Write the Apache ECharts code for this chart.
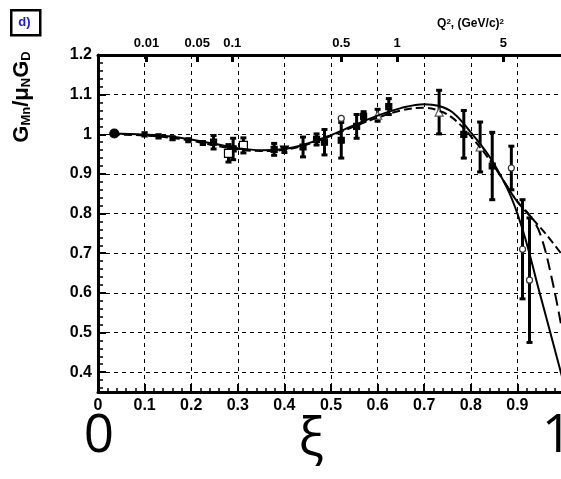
<!DOCTYPE html>
<html>
<head>
<meta charset="utf-8">
<script src="https://cdn.jsdelivr.net/npm/echarts@6/dist/echarts.min.js"></script>
<style>
  html, body { margin: 0; padding: 0; background: #fff; }
  #chart { width: 561px; height: 479px; }
</style>
</head>
<body>
<div id="chart"></div>
<script>
// ---- axis ticks ----
const yMajorTicks = [0.4, 0.5, 0.6, 0.7, 0.8, 0.9, 1, 1.1, 1.2];
const q2Positions = [0.104, 0.213, 0.288, 0.522, 0.642, 0.870];   // xi position of each Q^2 value
const q2Labels = ['0.01', '0.05', '0.1', '0.5', '1', '5'];

// ---- model curves [xi, G_Mn / mu_n G_D] ----
const fitSolid = [
  [0.03, 1.002], [0.1, 0.999], [0.15, 0.995], [0.2, 0.987], [0.25, 0.976], [0.3, 0.965],
  [0.35, 0.96], [0.4, 0.963], [0.45, 0.977], [0.5, 0.998], [0.55, 1.023], [0.6, 1.047],
  [0.65, 1.066], [0.7, 1.076], [0.73, 1.072], [0.76, 1.056], [0.8, 1.005], [0.85, 0.925],
  [0.9, 0.80], [0.95, 0.59], [1.0, 0.37]
];
const fitDashed = [
  [0.03, 1.0], [0.1, 0.997], [0.15, 0.992], [0.2, 0.984], [0.25, 0.972], [0.3, 0.962],
  [0.35, 0.958], [0.4, 0.961], [0.45, 0.975], [0.5, 0.996], [0.55, 1.02], [0.6, 1.042],
  [0.65, 1.06], [0.7, 1.067], [0.73, 1.06], [0.76, 1.042], [0.8, 0.995], [0.85, 0.92],
  [0.88, 0.865], [0.9, 0.83], [0.93, 0.79], [0.96, 0.75], [1.0, 0.69]
];
const fitLongDashed = [
  [0.85, 0.92], [0.88, 0.865], [0.9, 0.83], [0.93, 0.79], [0.95, 0.745], [0.975, 0.63], [1.0, 0.48]
];

// ---- measurements [xi, value, error] ----
const filledPoints = [
  [0.248, 0.98, 0.017], [0.29, 0.963, 0.027], [0.378, 0.962, 0.015], [0.44, 0.968, 0.025],
  [0.469, 0.987, 0.014], [0.486, 0.98, 0.032], [0.522, 0.985, 0.045], [0.555, 1.02, 0.03],
  [0.57, 1.045, 0.012], [0.624, 1.07, 0.02], [0.785, 1.0, 0.06], [0.846, 0.92, 0.085]
];
const smallPoints = [[0.10, 1.0], [0.13, 0.995], [0.16, 0.99], [0.194, 0.985], [0.225, 0.978]];
const bigPoint = [[0.035, 1.002]];
const openSquares = [[0.28, 0.952, 0.022], [0.312, 0.972, 0.019]];
const openCircles = [[0.522, 1.04, 0], [0.887, 0.915, 0.055], [0.911, 0.71, 0.125], [0.926, 0.632, 0.157]];
const openTriangles = [[0.60, 1.048, 0.015], [0.732, 1.056, 0.055], [0.82, 0.968, 0.063]];
const downTriangles = [[0.40, 0.96, 0.006]];

const FONT = "'Liberation Sans Narrow', 'Liberation Sans', Arial, sans-serif";

function errorBars(data) {
  return {
    type: 'custom',
    data: data,
    encode: { x: 0, y: 1 },
    z: 3,
    renderItem: function (params, api) {
      const x = api.value(0), y = api.value(1), e = api.value(2);
      if (!e) return null;
      const top = api.coord([x, y + e]);
      const bot = api.coord([x, y - e]);
      const c = 3;
      const st = { stroke: '#000', lineWidth: 3 };
      return {
        type: 'group',
        children: [
          { type: 'line', shape: { x1: top[0], y1: top[1], x2: bot[0], y2: bot[1] }, style: st },
          { type: 'line', shape: { x1: top[0] - c, y1: top[1], x2: top[0] + c, y2: top[1] }, style: st },
          { type: 'line', shape: { x1: bot[0] - c, y1: bot[1], x2: bot[0] + c, y2: bot[1] }, style: st }
        ]
      };
    }
  };
}

function markers(data, symbol, size, fill, stroke, rotate) {
  return {
    type: 'scatter',
    data: data.map(d => [d[0], d[1]]),
    symbol: symbol,
    symbolSize: size,
    symbolRotate: rotate || 0,
    z: 4,
    itemStyle: { color: fill, borderColor: stroke, borderWidth: 1.2, opacity: 1 }
  };
}

const chart = echarts.init(document.getElementById('chart'), null, { renderer: 'canvas' });

chart.setOption({
  animation: false,
  backgroundColor: '#fff',
  grid: { left: 98, top: 55, right: -3, bottom: 87, outerBoundsMode: 'none' },
  xAxis: [
    {
      type: 'value', position: 'bottom', min: 0, max: 1, interval: 0.1,
      axisLine: { lineStyle: { color: '#000', width: 3 } },
      axisTick: { inside: true, length: 8, lineStyle: { color: '#000', width: 2 } },
      minorTick: { show: true, splitNumber: 5, length: 4, lineStyle: { color: '#000', width: 1.5 } },
      splitLine: { show: true, lineStyle: { color: '#000', width: 1, type: [4, 4] } },
      axisLabel: {
        show: true, showMinLabel: true, showMaxLabel: false, margin: 6,
        color: '#000', fontFamily: FONT, fontWeight: 'bold', fontSize: 16
      }
    },
    {
      type: 'value', position: 'top', min: 0, max: 1,
      axisLine: { lineStyle: { color: '#000', width: 3 } },
      axisTick: { inside: true, length: 7, customValues: q2Positions, lineStyle: { color: '#000', width: 3 } },
      splitLine: { show: false },
      axisLabel: {
        show: true, margin: 5, customValues: q2Positions,
        formatter: v => q2Labels[q2Positions.indexOf(v)],
        color: '#000', fontFamily: FONT, fontWeight: 'bold', fontSize: 13
      }
    }
  ],
  yAxis: {
    type: 'value', min: 0.35, max: 1.2, splitNumber: 8,
    axisLine: { lineStyle: { color: '#000', width: 3 } },
    axisTick: { inside: true, length: 8, customValues: yMajorTicks, lineStyle: { color: '#000', width: 2 } },
    minorTick: { show: true, splitNumber: 5, length: 5, lineStyle: { color: '#000', width: 1.5 } },
    splitLine: { show: true, lineStyle: { color: '#000', width: 1, type: [4, 4] } },
    axisLabel: {
      show: true, margin: 6, customValues: yMajorTicks,
      color: '#000', fontFamily: FONT, fontWeight: 'bold', fontSize: 16
    }
  },
  series: [
    errorBars(filledPoints),
    errorBars(openSquares),
    errorBars(openCircles),
    errorBars(openTriangles),
    errorBars(downTriangles),
    {
      type: 'line', data: fitSolid, smooth: 0.4, showSymbol: false, z: 5,
      lineStyle: { color: '#000', width: 2 }
    },
    {
      type: 'line', data: fitDashed, smooth: 0.4, showSymbol: false, z: 5,
      lineStyle: { color: '#000', width: 2, type: [8, 4] }
    },
    {
      type: 'line', data: fitLongDashed, smooth: 0.4, showSymbol: false, z: 5,
      lineStyle: { color: '#000', width: 2, type: [12, 6] }
    },
    markers(filledPoints, 'rect', 6, '#000', '#000'),
    markers(smallPoints, 'rect', 5, '#000', '#000'),
    markers(bigPoint, 'circle', 9, '#000', '#000'),
    markers(openSquares, 'rect', 8, '#fff', '#000'),
    markers(openCircles, 'circle', 6, '#fff', '#333'),
    markers(openTriangles, 'triangle', 8, '#fff', '#555'),
    markers(downTriangles, 'triangle', 8, '#000', '#000', 180)
  ],
  graphic: [
    // panel tag
    { type: 'rect', left: 10, top: 9, shape: { width: 29, height: 25 },
      style: { fill: '#fff', stroke: '#000', lineWidth: 2.5 }, z: 10 },
    { type: 'text', x: 24.5, y: 22, z: 11,
      style: { text: 'd)', fill: '#1a1ad8', font: "bold 13px " + FONT, align: 'center', verticalAlign: 'middle' } },
    // Q^2 scale title
    { type: 'text', x: 504, y: 24, z: 11,
      style: {
        text: '{b|Q}{s|2}{b|, (GeV/c)}{s|2}', align: 'right', verticalAlign: 'middle',
        rich: {
          b: { fontFamily: FONT, fontWeight: 'bold', fontSize: 12, fill: '#000', verticalAlign: 'bottom' },
          s: { fontFamily: FONT, fontWeight: 'bold', fontSize: 8, fill: '#000', verticalAlign: 'top' }
        }
      } },
    // vertical axis title
    { type: 'text', x: 22, y: 97, rotation: Math.PI / 2, z: 11,
      style: {
        text: '{g|G}{sub|Mn}{g|/μ}{sub|N}{g|G}{sub|D}', align: 'center', verticalAlign: 'middle',
        rich: {
          g: { fontFamily: FONT, fontWeight: 'bold', fontSize: 22, fill: '#000', verticalAlign: 'top' },
          sub: { fontFamily: FONT, fontWeight: 'bold', fontSize: 13, fill: '#000', verticalAlign: 'bottom' }
        }
      } },
    // large labels under the axis
    { type: 'text', x: 99, y: 437, z: 11,
      style: { text: '0', fill: '#000', font: "53px 'Open Sans', 'Noto Sans', sans-serif", align: 'center', verticalAlign: 'middle' } },
    { type: 'text', x: 311, y: 440, z: 11,
      style: { text: 'ξ', fill: '#000', font: "53px 'Open Sans', 'Noto Sans', sans-serif", align: 'center', verticalAlign: 'middle' } },
    { type: 'text', x: 557, y: 437, z: 11,
      style: { text: '1', fill: '#000', font: "53px 'Open Sans', 'Noto Sans', sans-serif", align: 'center', verticalAlign: 'middle' } }
  ]
});
</script>
</body>
</html>
